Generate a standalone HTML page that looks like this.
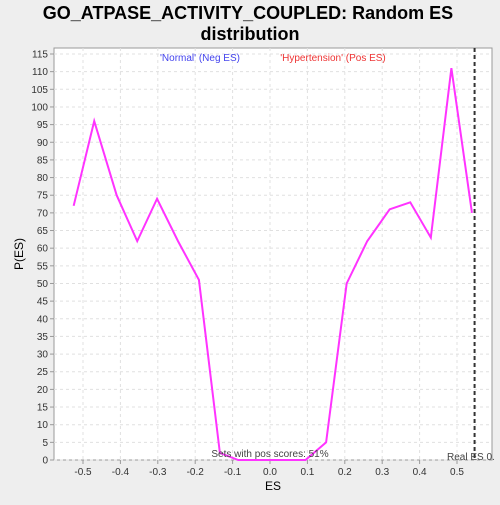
<!DOCTYPE html>
<html><head><style>
body{margin:0;background:#eeeeee;font-family:"Liberation Sans",sans-serif}
</style></head><body>
<svg width="500" height="500" xmlns="http://www.w3.org/2000/svg">
<rect x="0" y="0" width="500" height="500" fill="#eeeeee"/>
<text x="248" y="19" text-anchor="middle" font-size="18" font-weight="bold" fill="#000">GO_ATPASE_ACTIVITY_COUPLED: Random ES</text>
<text x="250" y="40" text-anchor="middle" font-size="18" font-weight="bold" fill="#000">distribution</text>
<rect x="54" y="48" width="438" height="412" fill="#fff" stroke="#999"/>
<g id="grid"></g>
<g id="axes"></g>
<text x="200" y="61" text-anchor="middle" font-size="10" fill="#4444ee">'Normal' (Neg ES)</text>
<text x="333" y="61" text-anchor="middle" font-size="10" fill="#ee3333">'Hypertension' (Pos ES)</text>
<path id="line" fill="none" stroke="#ff33ff" stroke-width="2"/>
<line id="real" stroke="#333" stroke-width="2" stroke-dasharray="4,3"/>
<text x="270" y="457" text-anchor="middle" font-size="10" fill="#444">Sets with pos scores: 51%</text>
<text x="447" y="460" font-size="10" fill="#444">Real ES 0.</text>
<text x="273" y="490" text-anchor="middle" font-size="12" fill="#000">ES</text>
<text x="23" y="254" text-anchor="middle" font-size="12" fill="#000" transform="rotate(-90 23 254)">P(ES)</text>
</svg>
<script>
const esValues=[-0.525,-0.47,-0.41,-0.355,-0.302,-0.246,-0.19,-0.134,-0.085,-0.03,0.025,0.095,0.15,0.205,0.26,0.32,0.375,0.43,0.485,0.54];
const probValues=[72,96,75,62,74,62,51,2,0,0,0,0,5,50,62,71,73,63,111,70];
const xTicks=[-0.5,-0.4,-0.3,-0.2,-0.1,0.0,0.1,0.2,0.3,0.4,0.5];
const yTicks=[0,5,10,15,20,25,30,35,40,45,50,55,60,65,70,75,80,85,90,95,100,105,110,115];
const realES=[0.547];
const X=v=>270+v*374;
const Y=v=>460-v*(406/115);
const NS="http://www.w3.org/2000/svg";
const grid=document.getElementById('grid'),axes=document.getElementById('axes');
function mk(tag,attrs,parent){const e=document.createElementNS(NS,tag);for(const k in attrs)e.setAttribute(k,attrs[k]);parent.appendChild(e);return e;}
xTicks.forEach(t=>{
 const g=mk('line',{x1:X(t),x2:X(t),y1:48,y2:460,stroke:'#e0e0e0','stroke-dasharray':'3,3'},grid);
 
 
 const tk=mk('line',{x1:X(t),x2:X(t),y1:460,y2:464,stroke:'#999'},axes);
 
 
 const l=mk('text',{x:X(t),y:475,'text-anchor':'middle','font-size':'10',fill:'#333'},axes);
 l.textContent=t.toFixed(1);
 
 
});
yTicks.forEach(t=>{
 const g=mk('line',{x1:54,x2:492,y1:Y(t),y2:Y(t),stroke:'#e0e0e0','stroke-dasharray':'3,3'},grid);
 
 
 const tk=mk('line',{x1:50,x2:54,y1:Y(t),y2:Y(t),stroke:'#999'},axes);
 
 
 const l=mk('text',{x:48,y:Y(t)+3.5,'text-anchor':'end','font-size':'10',fill:'#333'},axes);
 l.textContent=t;
 
 
});
document.getElementById('line').setAttribute('d',esValues.map((v,i)=>(i?'L':'M')+X(v)+','+Y(probValues[i])).join(' '));
const r=document.getElementById('real');
r.setAttribute('x1',X(realES[0]));r.setAttribute('x2',X(realES[0]));r.setAttribute('y1',48);r.setAttribute('y2',460);
</script>
</body></html>
